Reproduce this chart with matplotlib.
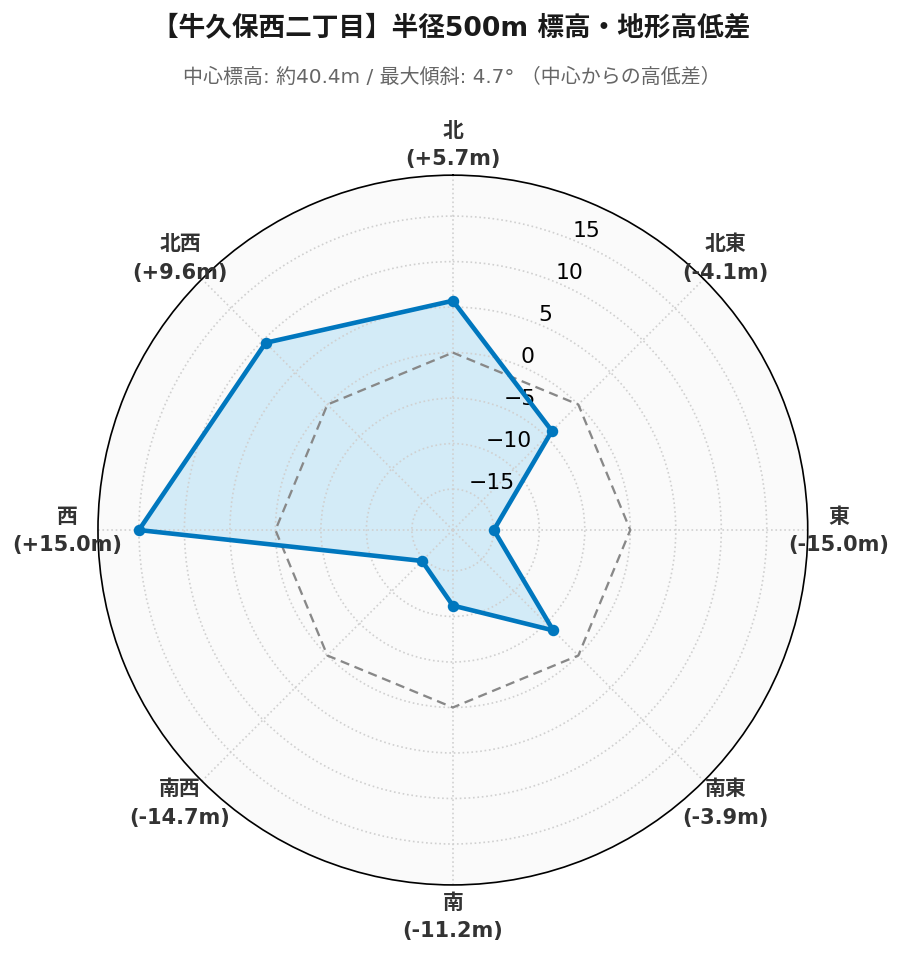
import numpy as np
import matplotlib
matplotlib.use("Agg")
from matplotlib import pyplot as plt

# chart values
directions = ["北", "北東", "東", "南東", "南", "南西", "西", "北西"]
diffs = [5.7, -4.1, -15.0, -3.9, -11.2, -14.7, 15.0, 9.6]
r_ticks = [-15, -10, -5, 0, 5, 10, 15]
title = "【牛久保西二丁目】半径500m 標高・地形高低差"
subtitle = "中心標高: 約40.4m / 最大傾斜: 4.7° （中心からの高低差）"

lat = ["DejaVu Sans", "Noto Sans CJK JP"]

fig = plt.figure(figsize=(6.02, 6.413), dpi=150)
ax = fig.add_axes([0.1085, 0.079, 0.786, 0.738], projection="polar")
ax.set_facecolor("#fafafa")
ax.set_theta_zero_location("N")
ax.set_theta_direction(-1)

lim = max(abs(v) for v in diffs) * 1.3
ax.set_ylim(-lim, lim)

angles = np.linspace(0, 2 * np.pi, len(directions), endpoint=False)
a_closed = np.append(angles, angles[0])
v_closed = np.append(diffs, diffs[0])

# zero reference octagon
ax.plot(a_closed, np.zeros_like(a_closed), color="#888888", lw=1.1,
        linestyle=(0, (4, 2.5)), zorder=3)

ax.fill(a_closed, v_closed, color="#7bcbf3", alpha=0.3, zorder=1)
ax.plot(a_closed, v_closed, color="#0077be", lw=2.2, zorder=4)
ax.plot(angles, diffs, "o", color="#0077be", ms=4.5, zorder=5)

ax.set_xticks(angles)
ax.set_xticklabels([])
ax.set_yticks(r_ticks)
ax.set_yticklabels([f"{t}".replace("-", "\u2212") for t in r_ticks], fontsize=10.5)
ax.set_rlabel_position(22.5)
ax.grid(True, color="#d0d0d0", linestyle=":", lw=0.8)
ax.spines["polar"].set_color("black")
ax.spines["polar"].set_linewidth(0.8)

for ang, name, v in zip(angles, directions, diffs):
    ax.text(ang, lim * 1.175, f"{name}\n({v:+.1f}m)", ha="center", va="center",
            fontsize=10, fontweight="bold", color="#333333", family=lat,
            linespacing=1.55, clip_on=False)

fig.text(0.5, 0.971, title, ha="center", va="center", fontsize=12.8,
         fontweight="bold", color="#1a1a1a", family=lat)
fig.text(0.5, 0.92, subtitle, ha="center", va="center", fontsize=9.6,
         color="#666666", family=lat)

fig.savefig("out.png", dpi=150, facecolor="white")
